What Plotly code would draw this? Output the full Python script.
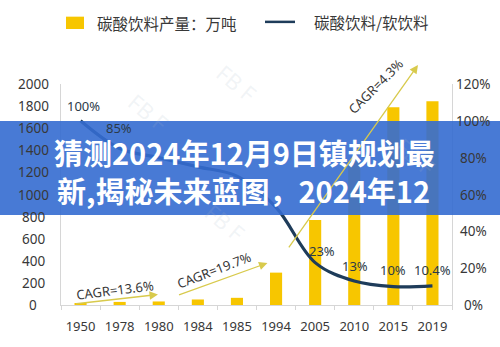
import plotly.graph_objects as go

# ---- data -------------------------------------------------------------
years = ["1950", "1978", "1980", "1984", "1985", "1994", "2005", "2010", "2015", "2019"]
output_wt = [15, 28, 32, 50, 65, 293, 770, 1300, 1790, 1845]      # 碳酸饮料产量（万吨）
share_pct = [100, 85, 80, 75, 70, 53, 23, 13, 10, 10.4]           # 碳酸饮料/软饮料（%）
share_text = {0: "100%", 1: "85%", 6: "23%", 7: "13%", 8: "10%", 9: "10.4%"}
left_ticks = list(range(0, 2001, 200))
right_ticks = list(range(0, 121, 20))

# CAGR arrows: (tail_x, tail_y, head_x, head_y, label, label_x, label_y, angle)
cagr = [
    (-0.15, 10, 1.98, 95, "CAGR=13.6%", 0.88, 135, -7),
    (2.48, 86, 4.78, 380, "CAGR=19.7%", 3.42, 320, -21),
    (5.3, 509, 8.63, 2172, "CAGR=4.3%", 7.55, 1985, -45),
]

idx = list(range(len(years)))

BAR = "#f7c600"
LINE = "#1e3c5a"
ARROW = "#d8ca4c"
TXT = "#383838"
FONT = "Noto Sans, Noto Sans CJK SC, sans-serif"
CJK = "Noto Sans CJK SC, Noto Sans, sans-serif"

fig = go.Figure()
fig.add_bar(x=idx, y=output_wt, width=0.31, marker=dict(color=BAR, line=dict(width=0)),
            yaxis="y", showlegend=False)
fig.add_scatter(x=idx, y=share_pct, yaxis="y2", mode="lines",
                line=dict(color=LINE, width=3.2, shape="spline", smoothing=1.0),
                showlegend=False)

ann = []

# axis tick labels, centred beside the axes
for v in left_ticks:
    ann.append(dict(x=0, xref="paper", xshift=-28, y=v, yref="y", text=str(v),
                    showarrow=False, xanchor="center", yanchor="middle",
                    font=dict(family=FONT, size=13.5, color=TXT)))
for v in right_ticks:
    ann.append(dict(x=1, xref="paper", xshift=21, y=v, yref="y2", text=f"{v}%",
                    showarrow=False, xanchor="center", yanchor="middle",
                    font=dict(family=FONT, size=13.5, color=TXT)))

# share labels on the line
offsets = {0: (3, 15), 1: (-1, 20), 6: (7, 12), 7: (1, 15), 8: (0, 17), 9: (0, 16)}
for i, t in share_text.items():
    dx, dy = offsets[i]
    ann.append(dict(x=i, y=share_pct[i], xref="x", yref="y2", text=t, showarrow=False,
                    xshift=dx, yshift=dy, xanchor="center", yanchor="middle",
                    font=dict(family=FONT, size=13, color="#2c3a48")))

# CAGR arrows and labels
for tx, ty, hx, hy, lab, lx, ly, ang in cagr:
    ann.append(dict(x=hx, y=hy, xref="x", yref="y", ax=tx, ay=ty, axref="x", ayref="y",
                    text="", showarrow=True, arrowhead=2, arrowsize=1.3, arrowwidth=1.3,
                    arrowcolor=ARROW))
    ann.append(dict(x=lx, y=ly, xref="x", yref="y", text=lab, showarrow=False,
                    textangle=ang, xanchor="center", yanchor="middle",
                    font=dict(family=FONT, size=13, color=TXT)))

# faint watermarks
for wx, wy in [(0.15, 1.0), (0.45, 1.13), (0.98, 0.8), (0.42, 0.25)]:
    ann.append(dict(x=wx, y=wy, xref="paper", yref="paper", text="FB F", showarrow=False,
                    textangle=40, font=dict(family=FONT, size=22, color="rgba(170,185,200,0.16)")))

# legend drawn by hand
shapes = [
    dict(type="rect", xref="paper", yref="paper", x0=0.0128, x1=0.0588, y0=1.2489, y1=1.3047,
         fillcolor=BAR, line=dict(width=0)),
    dict(type="line", xref="paper", yref="paper", x0=0.5217, x1=0.5985, y0=1.2811, y1=1.2811,
         line=dict(color=LINE, width=2.5)),
]
ann.append(dict(x=0.087, y=1.2768, xref="paper", yref="paper", text="碳酸饮料产量：万吨",
                showarrow=False, xanchor="left", yanchor="middle",
                font=dict(family=CJK, size=15.5, color=TXT)))
ann.append(dict(x=0.642, y=1.2811, xref="paper", yref="paper", text="碳酸饮料/软饮料",
                showarrow=False, xanchor="left", yanchor="middle",
                font=dict(family=CJK, size=15.5, color=TXT)))

# title banner across the chart
shapes.append(dict(type="rect", xref="paper", yref="paper", x0=-0.16, x1=1.13,
                   y0=0.4077, y1=0.8326, fillcolor="rgba(52,108,208,0.90)",
                   line=dict(width=0), layer="above"))
ann.append(dict(x=-0.023, y=0.691, xref="paper", yref="paper",
                text="<b>猜测2024年12月9日镇规划最</b>", showarrow=False,
                xanchor="left", yanchor="middle",
                font=dict(family=CJK, size=29, color="white")))
ann.append(dict(x=-0.0153, y=0.519, xref="paper", yref="paper",
                text="<b>新,揭秘未来蓝图，2024年12</b>", showarrow=False,
                xanchor="left", yanchor="middle",
                font=dict(family=CJK, size=29, color="white")))

fig.update_layout(
    width=500, height=347,
    margin=dict(l=61, r=48, t=84, b=30),
    paper_bgcolor="white", plot_bgcolor="white",
    xaxis=dict(range=[-0.5, 9.5], tickvals=idx, ticktext=years, showgrid=False,
               zeroline=False, showline=True, linecolor="#d6d6d6", linewidth=1,
               ticks="outside", ticklen=9, tickcolor="rgba(0,0,0,0)",
               minor=dict(tickvals=[i - 0.5 for i in range(11)], ticks="outside",
                          ticklen=4, tickcolor="#d6d6d6"),
               tickfont=dict(family=FONT, size=13, color=TXT), fixedrange=True),
    yaxis=dict(range=[0, 2000], showticklabels=False, showgrid=False, zeroline=False,
               showline=True, linecolor="#d6d6d6", linewidth=1, ticks=""),
    yaxis2=dict(range=[0, 120], overlaying="y", side="right", showticklabels=False,
                showgrid=False, zeroline=False, showline=True, linecolor="#d6d6d6",
                linewidth=1, ticks=""),
    annotations=ann,
    shapes=shapes,
    showlegend=False,
)

fig.write_html("out.html")
